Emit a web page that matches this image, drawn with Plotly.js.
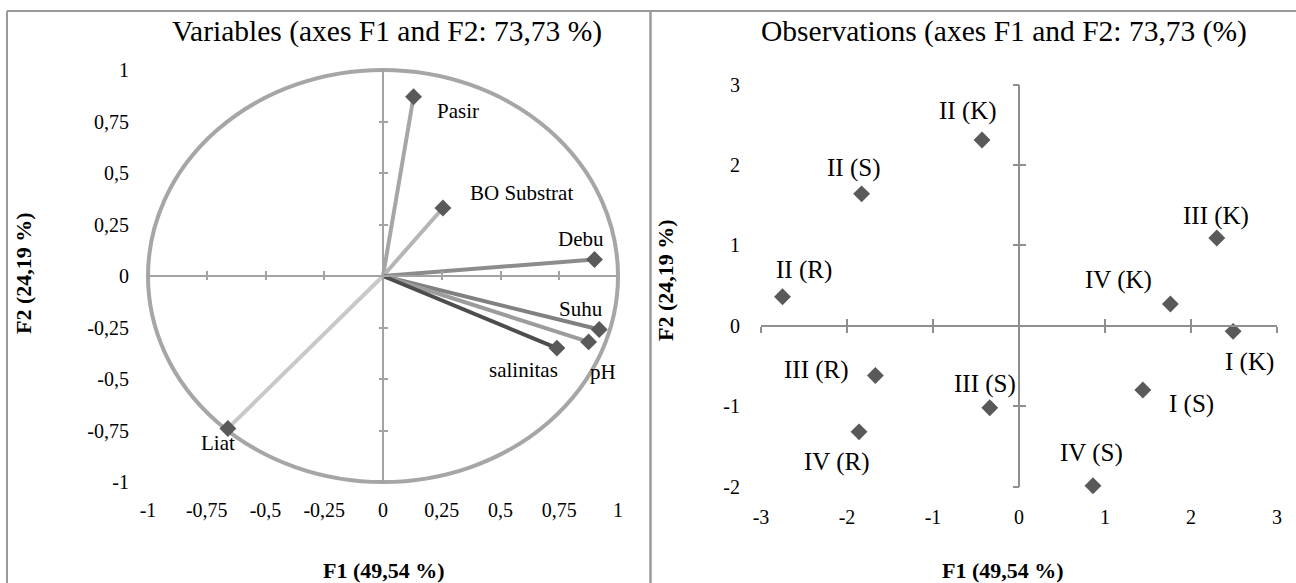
<!DOCTYPE html>
<html><head><meta charset="utf-8">
<script src="https://cdn.plot.ly/plotly-3.0.1.min.js"></script>
<style>html,body{margin:0;padding:0;background:#fff}#chart{width:1296px;height:583px}</style>
</head><body><div id="chart"></div>
<script>
// ---- Data: variables (correlation circle) ----
const varNames = ['Pasir', 'BO Substrat', 'Debu', 'Suhu', 'pH', 'salinitas', 'Liat'];
const varF1 = [0.13, 0.255, 0.90, 0.92, 0.875, 0.74, -0.66];
const varF2 = [0.87, 0.33, 0.08, -0.26, -0.32, -0.35, -0.74];
// ---- Data: observations ----
const obsNames = ['II (K)', 'II (S)', 'III (K)', 'II (R)', 'IV (K)', 'I (K)', 'III (R)', 'III (S)', 'I (S)', 'IV (R)', 'IV (S)'];
const obsF1 = [-0.43, -1.83, 2.30, -2.75, 1.76, 2.49, -1.67, -0.34, 1.44, -1.86, 0.86];
const obsF2 = [2.31, 1.64, 1.09, 0.36, 0.27, -0.07, -0.62, -1.02, -0.80, -1.32, -1.99];
// ---- Tick labels ----
const varTicks = [-1, -0.75, -0.5, -0.25, 0, 0.25, 0.5, 0.75, 1];
const varTickText = ['-1', '-0,75', '-0,5', '-0,25', '0', '0,25', '0,5', '0,75', '1'];
const obsXTicks = [-3, -2, -1, 0, 1, 2, 3];
const obsYTicks = [-2, -1, 0, 1, 2, 3];
const titleLeft = 'Variables (axes F1 and F2: 73,73 %)';
const titleRight = 'Observations (axes F1 and F2: 73,73 (%)';
const xTitle = 'F1 (49,54 %)';
const yTitle = 'F2 (24,19 %)';

// ---- Styles ----
const W = 1296, H = 583;
const FONT = 'Liberation Serif, Times New Roman, serif';
const varLineColors = ['#a6a6a6', '#b5b5b5', '#8c8c8c', '#808080', '#9c9c9c', '#4d4d4d', '#c8c8c8'];
const varLabelShift = [[44, -14], [79, 15], [-14, 21], [-18, 21], [14, -30], [-33, -22], [-10, -15]];
const obsLabelShift = [[-14, 29], [-8, 26], [-1, 22], [21, 27], [-52, 24], [16, -31], [-59, 6], [-5, 24], [49, -14], [-22, -30], [-1, 33]];
const markerColor = '#595959';
const px = v => v / W, py = v => 1 - v / H;

const LXdom = [px(148), px(618)], LYdom = [py(482), py(70)];
const RXdom = [px(761), px(1277)], RYdom = [py(486.5), py(84.5)];
const Lrange = [-1, 1];
const RXrange = [-3, 3], RYrange = [-2, 3];
const frac = (dom, rng, v) => dom[0] + (v - rng[0]) / (rng[1] - rng[0]) * (dom[1] - dom[0]);

const traces = [];
varNames.forEach((n, i) => {
  traces.push({type: 'scatter', mode: 'lines', x: [0, varF1[i]], y: [0, varF2[i]],
    line: {color: varLineColors[i], width: 4}, xaxis: 'x', yaxis: 'y', hoverinfo: 'skip'});
});
traces.push({type: 'scatter', mode: 'markers', x: varF1, y: varF2, text: varNames,
  marker: {symbol: 'diamond', size: 13, color: markerColor}, xaxis: 'x', yaxis: 'y', cliponaxis: false});
traces.push({type: 'scatter', mode: 'markers', x: obsF1, y: obsF2, text: obsNames,
  marker: {symbol: 'diamond', size: 13, color: markerColor}, xaxis: 'x2', yaxis: 'y2', cliponaxis: false});
// dummy traces to register cross axes
[['x3', 'y'], ['x4', 'y'], ['x', 'y3'], ['x', 'y4'], ['x5', 'y2'], ['x6', 'y2'], ['x2', 'y5'], ['x2', 'y6']].forEach(p => {
  traces.push({type: 'scatter', mode: 'markers', x: [null], y: [null], xaxis: p[0], yaxis: p[1], hoverinfo: 'skip'});
});

const tickFont = {family: FONT, size: 20, color: '#000'};
function baseAxis(anchor, dom, rng, vals, text, standoff) {
  return {anchor: anchor, domain: dom, range: rng, tickvals: vals, ticktext: text, showline: false, zeroline: false,
    showgrid: false, ticks: '', tickfont: tickFont, ticklabelstandoff: standoff, fixedrange: true};
}
function crossAxis(over, rng, vals, pos, tickdir, showline, color, len) {
  return {overlaying: over, anchor: 'free', position: pos, range: rng, tickvals: vals, showticklabels: false,
    ticks: tickdir, ticklen: len, tickwidth: 2, tickcolor: color, showline: showline, linecolor: color, linewidth: 2,
    showgrid: false, zeroline: false, fixedrange: true};
}
const lColor = '#a3a3a3', rColor = '#8f8f8f';
const layout = {
  width: W, height: H, margin: {l: 0, r: 0, t: 0, b: 0}, showlegend: false,
  paper_bgcolor: '#fff', plot_bgcolor: 'rgba(0,0,0,0)',
  xaxis: baseAxis('y', LXdom, Lrange, varTicks, varTickText, 14),
  yaxis: baseAxis('x', LYdom, Lrange, varTicks, varTickText, 18),
  xaxis2: baseAxis('y2', RXdom, RXrange, obsXTicks, obsXTicks.map(String), 16),
  yaxis2: baseAxis('x2', RYdom, RYrange, obsYTicks, obsYTicks.map(String), 20),
  xaxis3: crossAxis('x', Lrange, varTicks, frac(LYdom, Lrange, 0), 'inside', true, lColor, 4),
  xaxis4: crossAxis('x', Lrange, varTicks, frac(LYdom, Lrange, 0), 'outside', false, lColor, 3),
  yaxis3: crossAxis('y', Lrange, varTicks, frac(LXdom, Lrange, 0), 'inside', true, lColor, 4),
  yaxis4: crossAxis('y', Lrange, varTicks, frac(LXdom, Lrange, 0), 'outside', false, lColor, 4),
  xaxis5: crossAxis('x2', RXrange, obsXTicks, frac(RYdom, RYrange, 0), 'inside', true, rColor, 6),
  xaxis6: crossAxis('x2', RXrange, obsXTicks, frac(RYdom, RYrange, 0), 'outside', false, rColor, 6),
  yaxis5: crossAxis('y2', RYrange, obsYTicks, frac(RXdom, RXrange, 0), 'inside', true, rColor, 6),
  yaxis6: crossAxis('y2', RYrange, obsYTicks, frac(RXdom, RXrange, 0), 'outside', false, rColor, 6),
  shapes: [
    {type: 'circle', xref: 'x domain', yref: 'y domain', x0: 0, x1: 1, y0: 0, y1: 1,
      line: {color: '#a6a6a6', width: 4}, layer: 'below'},
    {type: 'line', xref: 'paper', yref: 'paper', x0: px(7), x1: 1, y0: py(11), y1: py(11), line: {color: '#9a9a9a', width: 2}},
    {type: 'line', xref: 'paper', yref: 'paper', x0: px(7), x1: px(7), y0: py(11), y1: 0, line: {color: '#9a9a9a', width: 2}},
    {type: 'line', xref: 'paper', yref: 'paper', x0: px(650.5), x1: px(650.5), y0: py(11), y1: 0, line: {color: '#9a9a9a', width: 2.5}}
  ],
  annotations: []
};
const A = layout.annotations;
const tf = (size, extra) => Object.assign({family: FONT, size: size, color: '#000'}, extra || {});
A.push({text: titleLeft, xref: 'paper', yref: 'paper', x: px(387), y: py(32), xanchor: 'center', yanchor: 'middle', showarrow: false, font: tf(29.5)});
A.push({text: titleRight, xref: 'paper', yref: 'paper', x: px(1004), y: py(32), xanchor: 'center', yanchor: 'middle', showarrow: false, font: tf(29.5)});
A.push({text: '<b>' + xTitle + '</b>', xref: 'paper', yref: 'paper', x: px(384), y: py(570), xanchor: 'center', yanchor: 'middle', showarrow: false, font: tf(22)});
A.push({text: '<b>' + xTitle + '</b>', xref: 'paper', yref: 'paper', x: px(1003), y: py(570), xanchor: 'center', yanchor: 'middle', showarrow: false, font: tf(22)});
A.push({text: '<b>' + yTitle + '</b>', xref: 'paper', yref: 'paper', x: px(23), y: py(273), xanchor: 'center', yanchor: 'middle', textangle: -90, showarrow: false, font: tf(22)});
A.push({text: '<b>' + yTitle + '</b>', xref: 'paper', yref: 'paper', x: px(666), y: py(280), xanchor: 'center', yanchor: 'middle', textangle: -90, showarrow: false, font: tf(22)});
varNames.forEach((n, i) => {
  A.push({text: n, xref: 'x', yref: 'y', x: varF1[i], y: varF2[i], xshift: varLabelShift[i][0], yshift: varLabelShift[i][1],
    xanchor: 'center', yanchor: 'middle', showarrow: false, font: tf(21)});
});
obsNames.forEach((n, i) => {
  A.push({text: n, xref: 'x2', yref: 'y2', x: obsF1[i], y: obsF2[i], xshift: obsLabelShift[i][0], yshift: obsLabelShift[i][1],
    xanchor: 'center', yanchor: 'middle', showarrow: false, font: tf(25)});
});

Plotly.newPlot('chart', traces, layout, {displayModeBar: false, staticPlot: true});
</script>
</body></html>
